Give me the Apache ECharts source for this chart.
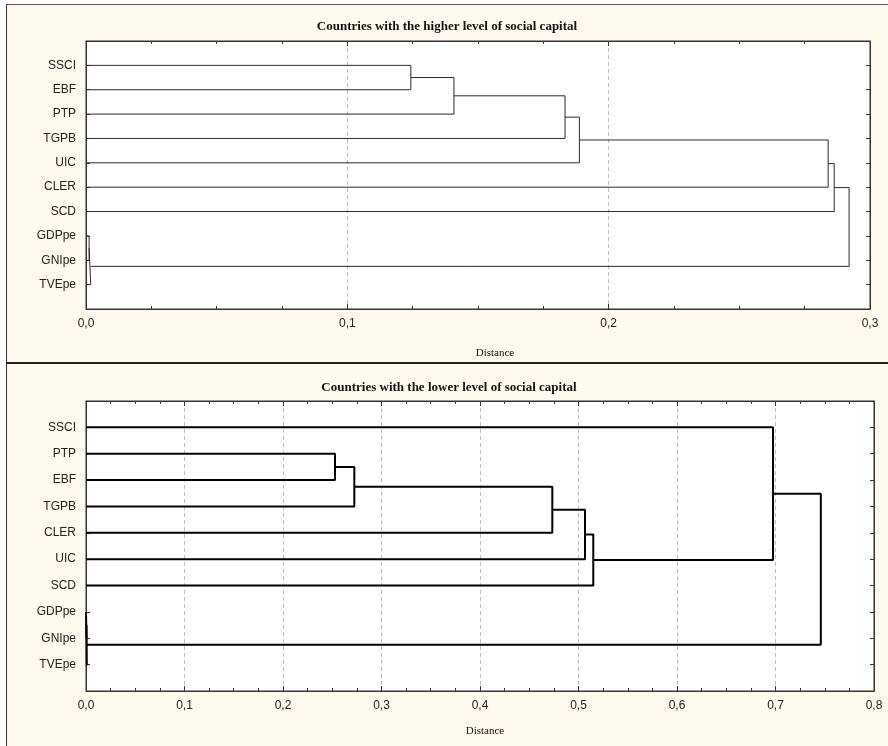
<!DOCTYPE html>
<html>
<head>
<meta charset="utf-8">
<script src="https://cdn.jsdelivr.net/npm/echarts@6/dist/echarts.min.js"></script>
<style>html,body{margin:0;padding:0;background:#fff}#c{width:888px;height:746px}</style>
</head>
<body>
<div id="c"></div>
<script>
// ---- Data ----
const topTitle = 'Countries with the higher level of social capital';
const bottomTitle = 'Countries with the lower level of social capital';
const axisName = 'Distance';

const topLeaves = ['SSCI', 'EBF', 'PTP', 'TGPB', 'UIC', 'CLER', 'SCD', 'GDPpe', 'GNIpe', 'TVEpe'];
// merges refer to leaf indices (0..9) or earlier merges (10, 11, ...)
const topMerges = [[0, 1], [10, 2], [11, 3], [12, 4], [13, 5], [14, 6], [7, 8], [16, 9], [15, 17]];
const topHeights = [0.1243, 0.1408, 0.1833, 0.1888, 0.2840, 0.2863, 0.0012, 0.0018, 0.2920];
const topTicks = [0, 0.1, 0.2, 0.3];

const bottomLeaves = ['SSCI', 'PTP', 'EBF', 'TGPB', 'CLER', 'UIC', 'SCD', 'GDPpe', 'GNIpe', 'TVEpe'];
const bottomMerges = [[1, 2], [10, 3], [11, 4], [12, 5], [13, 6], [0, 14], [7, 8], [16, 9], [15, 17]];
const bottomHeights = [0.2528, 0.2724, 0.4734, 0.5066, 0.5150, 0.6975, 0.0005, 0.0008, 0.7460];
const bottomTicks = [0, 0.1, 0.2, 0.3, 0.4, 0.5, 0.6, 0.7, 0.8];

// ---- Build dendrogram links ----
function buildLinks(leaves, merges, heights) {
  const nodes = leaves.map((_, i) => ({ y: i + 1, h: 0 }));
  const links = [];
  merges.forEach((m, k) => {
    const a = nodes[m[0]], b = nodes[m[1]], h = heights[k];
    links.push([[a.h, a.y], [h, a.y], [h, b.y], [b.h, b.y]]);
    nodes.push({ y: (a.y + b.y) / 2, h: h });
  });
  return links;
}

const fmt = v => v.toFixed(1).replace('.', ',');
const labelFont = { color: '#222', fontFamily: 'Liberation Sans, Arial, sans-serif', fontSize: 12 };

function xAxes(gridIndex, ticks) {
  const min = ticks[0], max = ticks[ticks.length - 1];
  const common = {
    type: 'value', gridIndex, min, max, interval: 0.1,
    axisLine: { show: true, onZero: false, lineStyle: { color: '#333', width: 1 } },
    axisTick: { show: true, inside: true, length: 5, lineStyle: { color: '#333' } },
    minorTick: { show: true, splitNumber: 4, length: 3, lineStyle: { color: '#333' } },
  };
  return [
    Object.assign({}, common, {
      position: 'bottom',
      axisLabel: Object.assign({ margin: 9, formatter: fmt }, labelFont),
      splitLine: { show: true, lineStyle: { color: '#bdbdbd', type: [4, 3], width: 1 } },
    }),
    Object.assign({}, common, {
      position: 'top', axisLabel: { show: false }, splitLine: { show: false },
    }),
  ];
}

function yAxes(gridIndex, leaves) {
  const common = {
    type: 'value', gridIndex, min: 0, max: leaves.length + 1, interval: 1, inverse: true,
    axisLine: { show: true, onZero: false, lineStyle: { color: '#333', width: 1 } },
    axisTick: { show: true, inside: true, length: 4, lineStyle: { color: '#333' } },
    splitLine: { show: false },
  };
  return [
    Object.assign({}, common, {
      position: 'left',
      axisLabel: Object.assign({
        margin: 10,
        formatter: v => leaves[Math.round(v) - 1] || ''
      }, labelFont),
    }),
    Object.assign({}, common, { position: 'right', axisLabel: { show: false } }),
  ];
}

function linkSeries(links, xi, yi, color, width) {
  return links.map(pts => ({
    type: 'line', xAxisIndex: xi, yAxisIndex: yi, data: pts,
    showSymbol: false, symbol: 'none', silent: true, animation: false,
    lineStyle: { color, width }, z: 5,
  }));
}

const chart = echarts.init(document.getElementById('c'), null, { renderer: 'canvas' });
const titleStyle = { fontFamily: 'Liberation Serif, Times New Roman, serif', fontSize: 13, fontWeight: 'bold', color: '#111' };
const nameStyle = { fontFamily: 'Liberation Serif, Times New Roman, serif', fontSize: 11, fontWeight: 'normal', color: '#111' };

chart.setOption({
  animation: false,
  backgroundColor: '#fff',
  graphic: [
    { type: 'rect', z: -10, shape: { x: 6, y: 4, width: 882, height: 742 }, style: { fill: '#FFF9EE' } },
    { type: 'line', z: 100, shape: { x1: 6.5, y1: 4, x2: 6.5, y2: 746 }, style: { stroke: '#333', lineWidth: 1 } },
    { type: 'line', z: 100, shape: { x1: 6, y1: 4.5, x2: 888, y2: 4.5 }, style: { stroke: '#555', lineWidth: 1 } },
    { type: 'line', z: 100, shape: { x1: 6, y1: 363, x2: 888, y2: 363 }, style: { stroke: '#222', lineWidth: 2 } },
  ],
  title: [
    { text: topTitle, left: 442, top: 15, textAlign: 'center', textStyle: titleStyle },
    { text: axisName, left: 490, top: 343, textAlign: 'center', textStyle: nameStyle },
    { text: bottomTitle, left: 444, top: 376, textAlign: 'center', textStyle: titleStyle },
    { text: axisName, left: 480, top: 721, textAlign: 'center', textStyle: nameStyle },
  ],
  grid: [
    { left: 86, top: 41, right: 18, height: 268, show: true, backgroundColor: '#fff', borderColor: '#333', borderWidth: 1 },
    { left: 86, top: 401, right: 14, height: 290, show: true, backgroundColor: '#fff', borderColor: '#333', borderWidth: 1 },
  ],
  xAxis: [].concat(xAxes(0, topTicks), xAxes(1, bottomTicks)),
  yAxis: [].concat(yAxes(0, topLeaves), yAxes(1, bottomLeaves)),
  series: [].concat(
    linkSeries(buildLinks(topLeaves, topMerges, topHeights), 0, 0, '#2a2a2a', 1),
    linkSeries(buildLinks(bottomLeaves, bottomMerges, bottomHeights), 2, 2, '#000', 2)
  ),
});
</script>
</body>
</html>
